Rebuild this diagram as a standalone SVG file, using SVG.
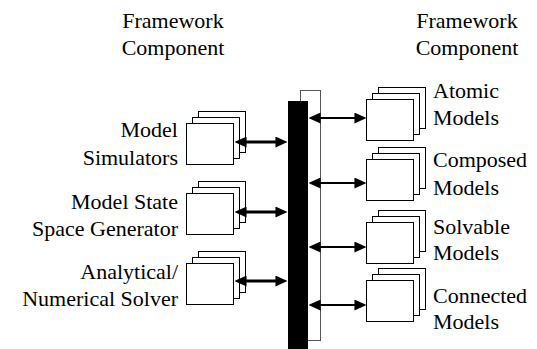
<svg xmlns="http://www.w3.org/2000/svg" xmlns:xlink="http://www.w3.org/1999/xlink" width="537" height="349" viewBox="0 0 537 349">
<defs>
<marker id="ah" markerUnits="userSpaceOnUse" markerWidth="12" markerHeight="11" refX="6" refY="5" orient="auto-start-reverse" viewBox="0 0 11 10">
<path d="M0,0 L11,5 L0,10 z" fill="#000"/>
</marker>
<g id="stack" fill="#fff" stroke="#000" stroke-width="1">
<rect x="12.5" y="-11.5" width="47" height="41"/>
<rect x="6.5" y="-5.5" width="47" height="41"/>
<rect x="0.5" y="0.5" width="47" height="41"/>
</g>
</defs>
<rect x="0" y="0" width="537" height="349" fill="#fff"/>

<g id="headers">
<text style="font-family:'Liberation Serif';font-size:22px" text-anchor="middle" x="173" y="28">Framework</text>
<text style="font-family:'Liberation Serif';font-size:22px" text-anchor="middle" x="173" y="55">Component</text>
<text style="font-family:'Liberation Serif';font-size:22px" text-anchor="middle" x="467" y="28">Framework</text>
<text style="font-family:'Liberation Serif';font-size:22px" text-anchor="middle" x="467" y="55">Component</text>
</g>

<g id="bus">
<rect x="300.5" y="90.5" width="20" height="250" fill="#fff" stroke="#555" stroke-width="1"/>
<rect x="288" y="101" width="20" height="248" fill="#000"/>
</g>

<g id="model-simulators">
<use xlink:href="#stack" x="186" y="123"/>
<text style="font-family:'Liberation Serif';font-size:22px" text-anchor="end" x="178" y="137">Model</text>
<text style="font-family:'Liberation Serif';font-size:22px" text-anchor="end" x="178" y="165">Simulators</text>
</g>
<g id="state-space-generator">
<use xlink:href="#stack" x="186" y="193"/>
<text style="font-family:'Liberation Serif';font-size:22px" text-anchor="end" x="178" y="209">Model State</text>
<text style="font-family:'Liberation Serif';font-size:22px" text-anchor="end" x="178" y="236">Space Generator</text>
</g>
<g id="solver">
<use xlink:href="#stack" x="186" y="263"/>
<text style="font-family:'Liberation Serif';font-size:22px" text-anchor="end" x="178" y="279">Analytical/</text>
<text style="font-family:'Liberation Serif';font-size:22px" text-anchor="end" x="178" y="306">Numerical Solver</text>
</g>

<g id="atomic-models">
<use xlink:href="#stack" x="366" y="99"/>
<text style="font-family:'Liberation Serif';font-size:22px" x="433" y="98">Atomic</text>
<text style="font-family:'Liberation Serif';font-size:22px" x="433" y="125">Models</text>
</g>
<g id="composed-models">
<use xlink:href="#stack" x="366" y="159"/>
<text style="font-family:'Liberation Serif';font-size:22px" x="433" y="167">Composed</text>
<text style="font-family:'Liberation Serif';font-size:22px" x="433" y="195">Models</text>
</g>
<g id="solvable-models">
<use xlink:href="#stack" x="366" y="222"/>
<text style="font-family:'Liberation Serif';font-size:22px" x="433" y="234">Solvable</text>
<text style="font-family:'Liberation Serif';font-size:22px" x="433" y="260">Models</text>
</g>
<g id="connected-models">
<use xlink:href="#stack" x="366" y="280"/>
<text style="font-family:'Liberation Serif';font-size:22px" x="433" y="303">Connected</text>
<text style="font-family:'Liberation Serif';font-size:22px" x="433" y="329">Models</text>
</g>

<g id="connectors" stroke="#000" fill="none" marker-start="url(#ah)" marker-end="url(#ah)">
<line stroke-width="3" x1="240" y1="142" x2="282" y2="142"/>
<line stroke-width="3" x1="240" y1="212" x2="282" y2="212"/>
<line stroke-width="3" x1="240" y1="281" x2="282" y2="281"/>
<line stroke-width="2" x1="314" y1="118" x2="361" y2="118"/>
<line stroke-width="2" x1="314" y1="183" x2="361" y2="183"/>
<line stroke-width="2" x1="314" y1="247" x2="361" y2="247"/>
<line stroke-width="2" x1="314" y1="305" x2="361" y2="305"/>
</g>
</svg>
